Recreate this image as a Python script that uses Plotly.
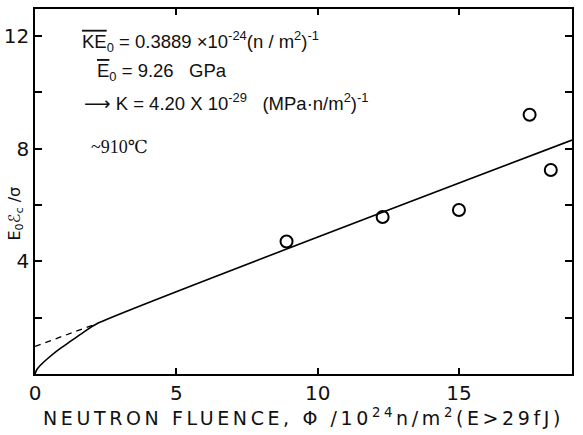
import plotly.graph_objects as go

# Measured points
fluence = [8.9, 12.3, 15.0, 17.5, 18.25]
ratio = [4.7, 5.57, 5.82, 9.2, 7.24]

# Fitted curve (solid)
fit_x = [0.0, 0.06, 0.2, 0.45, 0.8, 1.2, 1.7, 2.2, 19.0]
fit_y = [0.0, 0.15, 0.32, 0.55, 0.84, 1.12, 1.47, 1.79, 8.30]

# Extrapolated linear part (dashed)
dash_x = [0.0, 2.2]
dash_y = [0.98, 1.79]

x_ticks = [0, 5, 10, 15]
x_ticktext = ["0", "5", "10", "15"]
y_ticks = [0, 2, 4, 6, 8, 10, 12]
y_ticktext = ["", "", "4", "", "8", "", "12"]

FONT = "DejaVu Sans, Liberation Sans, sans-serif"
AFONT = "Liberation Sans, Arial, sans-serif"

fig = go.Figure()
fig.add_trace(go.Scatter(x=dash_x, y=dash_y, mode="lines",
                         line=dict(color="black", width=1.3, dash="6px,5px"),
                         showlegend=False, hoverinfo="skip"))
fig.add_trace(go.Scatter(x=fit_x, y=fit_y, mode="lines",
                         line=dict(color="black", width=1.6, shape="spline", smoothing=0.5),
                         showlegend=False, hoverinfo="skip"))
fig.add_trace(go.Scatter(x=fluence, y=ratio, mode="markers",
                         marker=dict(symbol="circle-open", size=12, color="black",
                                     line=dict(width=2, color="black")),
                         showlegend=False))

ann_font = dict(family=AFONT, size=18.5, color="#111")
fig.add_annotation(x=1.59, y=11.8, xref="x", yref="y", xanchor="left", yanchor="middle",
                   showarrow=False, font=ann_font,
                   text='<span style="text-decoration:overline">KE</span><sub>0</sub> = 0.3889 ×10<sup>-24</sup>(n / m<sup>2</sup>)<sup>-1</sup>')
fig.add_annotation(x=2.12, y=10.7, xref="x", yref="y", xanchor="left", yanchor="middle",
                   showarrow=False, font=ann_font,
                   text='<span style="text-decoration:overline">E</span><sub>0</sub> = 9.26   GPa')
fig.add_annotation(x=1.66, y=9.66, xref="x", yref="y", xanchor="left", yanchor="middle",
                   showarrow=False, font=ann_font,
                   text='<span style="font-family:DejaVu Sans">⟶</span> K = 4.20 X 10<sup>-29</sup>   (MPa·n/m<sup>2</sup>)<sup>-1</sup>')
fig.add_annotation(x=1.9, y=8.05, xref="x", yref="y", xanchor="left", yanchor="middle",
                   showarrow=False, font=dict(family="Liberation Serif, DejaVu Serif, serif", size=18, color="#111"),
                   text='~910℃')

# y-axis title as rotated annotation
fig.add_annotation(x=-0.037, y=0.44, xref="paper", yref="paper", xanchor="center", yanchor="middle",
                   showarrow=False, textangle=-90,
                   font=dict(family=FONT, size=16, color="#111"),
                   text="E<sub>0</sub>ℰ<sub>c</sub> /σ")

fig.update_xaxes(range=[0, 19], tickvals=x_ticks, ticktext=x_ticktext,
                 ticks="inside", ticklen=6, tickwidth=1.5, tickcolor="black",
                 showline=True, linecolor="black", linewidth=1.6, mirror="ticks",
                 showgrid=False, zeroline=False, automargin=False,
                 tickfont=dict(family=FONT, size=20, color="#111"),
                 title=dict(text='<span style="letter-spacing:3.6px">NEUTRON FLUENCE, Φ /10<sup>24</sup>n/m<sup>2</sup>(E>29fJ)</span>',
                            font=dict(family=FONT, size=19, color="#111"), standoff=4))
fig.update_yaxes(range=[0, 12.95], tickvals=y_ticks, ticktext=y_ticktext,
                 ticks="inside", ticklen=7, tickwidth=1.5, tickcolor="black",
                 showline=True, linecolor="black", linewidth=1.6, mirror="ticks",
                 showgrid=False, zeroline=False, automargin=False,
                 tickfont=dict(family=FONT, size=20, color="#111"))

fig.update_layout(width=583, height=435, margin=dict(l=35, r=11, t=9, b=61),
                  plot_bgcolor="white", paper_bgcolor="white")
fig.write_html("out.html")
